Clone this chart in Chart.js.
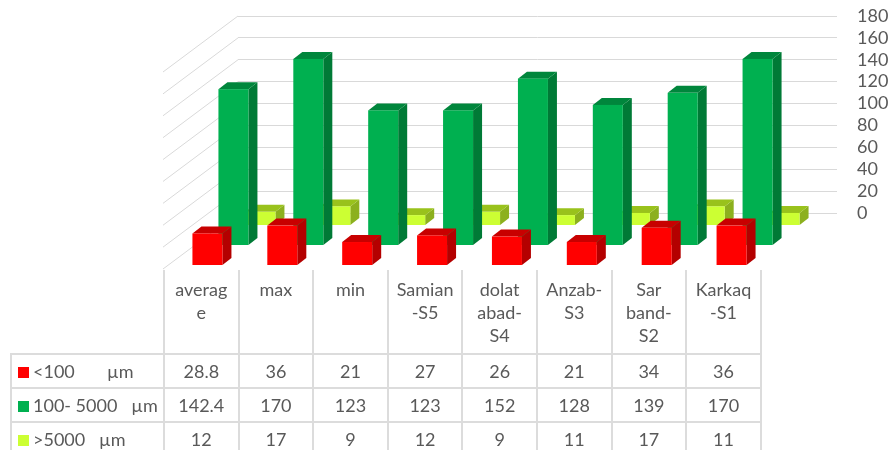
<!DOCTYPE html>
<html>
<head>
<meta charset="utf-8">
<script src="https://cdn.jsdelivr.net/npm/chart.js@4"></script>
<style>
  body { margin: 0; background: #fff; }
  #wrap { position: relative; width: 889px; height: 450px; overflow: hidden; }
  #chart { position: absolute; left: 0; top: 0; }
  #dataTable {
    position: absolute; left: 10px; top: 270px;
    border-collapse: collapse; table-layout: fixed;
    font-family: Lato, "Open Sans", sans-serif; font-size: 18px; color: #595959;
  }
  #dataTable td { border: 2px solid #dcdcdc; padding: 0; text-align: center; }
  #dataTable tr.head td { height: 84px; vertical-align: top; line-height: 23px; padding-top: 8px; border-top: none; box-sizing: border-box; }
  #dataTable tr.head td.corner { border-left: none; }
  #dataTable tr.row td { height: 32px; }
  #dataTable td.series { text-align: left; padding-left: 6px; white-space: pre; }
  .mark { display: inline-block; width: 11px; height: 11px; margin-right: 4px; vertical-align: 0px; }
</style>
</head>
<body>
<div id="wrap">
  <canvas id="chart" width="889" height="450"></canvas>
  <table id="dataTable"></table>
</div>
<script>
// categories as they wrap in the table header
const categories = [['averag', 'e'], ['max'], ['min'], ['Samian', '-S5'], ['dolat', 'abad-', 'S4'], ['Anzab-', 'S3'], ['Sar', 'band-', 'S2'], ['Karkaq', '-S1']];
const seriesNames = ['<100       µm', '100- 5000   µm', '>5000   µm'];
const fineValues = [28.8, 36, 21, 27, 26, 21, 34, 36];
const mediumValues = [142.4, 170, 123, 123, 152, 128, 139, 170];
const coarseValues = [12, 17, 9, 12, 9, 11, 17, 11];
const yMax = 180;
const yStep = 20;

// face colours and depth offset (from the back wall) for each series
const faces = [
    { front: '#ff0000', top: '#c80000', side: '#b40000', dx: -68, dy: 52 },
    { front: '#00b050', top: '#00863c', side: '#007a36', dx: -42, dy: 32 },
    { front: '#ccff33', top: '#99c21c', side: '#8cb01e', dx: -15, dy: 12 }
];
const barW = 30, depthX = 9, depthY = -7;

// draws the side wall, then the bars as boxes, instead of flat bars
const boxes3d = {
    id: 'boxes3d',
    beforeDatasetsDraw(chart) {
        const ctx = chart.ctx;
        const area = chart.chartArea;
        const xs = chart.scales.x, ys = chart.scales.y;

        ctx.save();
        ctx.strokeStyle = '#d9d9d9';
        ctx.lineWidth = 1;
        ys.ticks.forEach(t => {
            const y = ys.getPixelForValue(t.value);
            ctx.beginPath();
            ctx.moveTo(area.left, y);
            ctx.lineTo(area.left - 75, y + 56);
            ctx.stroke();
        });

        [2, 1, 0].forEach(d => {
            const f = faces[d];
            const meta = chart.getDatasetMeta(d);
            meta.data.forEach((el, i) => {
                const v = chart.data.datasets[d].data[i];
                const cx = xs.getPixelForValue(i) + f.dx;
                const top = ys.getPixelForValue(v) + f.dy;
                const base = ys.getPixelForValue(0) + f.dy;
                const l = cx - barW / 2, r = cx + barW / 2;
                // side
                ctx.fillStyle = f.side;
                ctx.beginPath();
                ctx.moveTo(r, top); ctx.lineTo(r + depthX, top + depthY);
                ctx.lineTo(r + depthX, base + depthY); ctx.lineTo(r, base);
                ctx.closePath(); ctx.fill();
                // top
                ctx.fillStyle = f.top;
                ctx.beginPath();
                ctx.moveTo(l, top); ctx.lineTo(l + depthX, top + depthY);
                ctx.lineTo(r + depthX, top + depthY); ctx.lineTo(r, top);
                ctx.closePath(); ctx.fill();
                // front
                ctx.fillStyle = f.front;
                ctx.fillRect(l, top, barW, base - top);
            });
        });
        ctx.restore();
        return false;
    }
};

const chart = new Chart(document.getElementById('chart'), {
    type: 'bar',
    data: {
        labels: categories,
        datasets: [
            { label: seriesNames[0], data: fineValues, backgroundColor: faces[0].front },
            { label: seriesNames[1], data: mediumValues, backgroundColor: faces[1].front },
            { label: seriesNames[2], data: coarseValues, backgroundColor: faces[2].front }
        ]
    },
    options: {
        responsive: false,
        animation: false,
        devicePixelRatio: 1,
        layout: { padding: { left: 238, top: 16, right: 0, bottom: 0 } },
        plugins: { legend: { display: false }, tooltip: { enabled: false } },
        scales: {
            x: {
                ticks: { display: false },
                grid: { display: false },
                border: { display: false },
                afterFit(s) { s.height = 237; s.paddingLeft = 0; s.paddingRight = 0; }
            },
            y: {
                position: 'right',
                min: 0,
                max: yMax,
                ticks: { stepSize: yStep, autoSkip: false, padding: 20, color: '#595959', font: { family: 'Lato', size: 18 } },
                grid: { color: '#d9d9d9', drawTicks: false },
                border: { display: false },
                afterFit(s) { s.width = 52; s.paddingTop = 0; s.paddingBottom = 0; }
            }
        }
    },
    plugins: [boxes3d]
});

// data table under the chart, built from the same arrays
function buildTable() {
    const table = document.getElementById('dataTable');
    let html = '<colgroup><col style="width:153px">';
    categories.forEach(() => { html += '<col style="width:74.6px">'; });
    html += '</colgroup><tr class="head"><td class="corner"></td>';
    categories.forEach(c => { html += '<td>' + c.join('<br>') + '</td>'; });
    html += '</tr>';
    chart.data.datasets.forEach((ds, d) => {
        html += '<tr class="row"><td class="series"><span class="mark" style="background:' + ds.backgroundColor + '"></span>' + ds.label + '</td>';
        ds.data.forEach(v => { html += '<td>' + v + '</td>'; });
        html += '</tr>';
    });
    table.innerHTML = html;
}
buildTable();
</script>
</body>
</html>
